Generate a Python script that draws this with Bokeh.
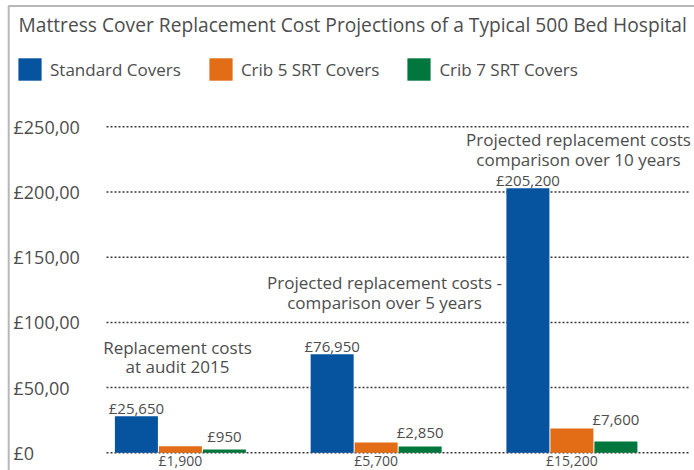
import numpy as np
from bokeh.plotting import figure
from bokeh.models import Legend, LegendItem, Label, BoxAnnotation, Range1d
from bokeh.core.properties import value
from bokeh.embed import file_html
from bokeh.resources import INLINE

# ---------------- data ----------------
title_text = "Mattress Cover Replacement Cost Projections of a Typical 500 Bed Hospital"
group_notes = [
    "Replacement costs\nat audit 2015",
    "Projected replacement costs -\ncomparison over 5 years",
    "Projected replacement costs\ncomparison over 10 years",
]
series_names = ["Standard Covers", "Crib 5 SRT Covers", "Crib 7 SRT Covers"]
# bar heights as drawn (scale of the value axis, thousands of £)
standard = [28.1, 75.5, 202.9]
crib5 = [5.1, 7.9, 18.6]
crib7 = [2.5, 4.8, 8.7]
standard_labels = ["£25,650", "£76,950", "£205,200"]
crib5_labels = ["£1,900", "£5,700", "£15,200"]
crib7_labels = ["£950", "£2,850", "£7,600"]
y_ticks = [0, 50, 100, 150, 200, 250]
y_tick_labels = ["£0", "£50,00", "£100,00", "£150,00", "£200,00", "£250,00"]

# ---------------- layout ----------------
W, H = 694, 470
GROUP_PX = 195.75          # pixels per group
X0_PX = 179.9              # canvas x of first group centre
Y0_PX = 452.3              # canvas y of value 0
PX_PER_UNIT = 1.304
FONT = "Open Sans"
TXT = "#4d4d4d"
colors = ["#0653A0", "#E36C16", "#02773D"]


def xd(px):
    return (px - X0_PX) / GROUP_PX


def yd(py):
    return (Y0_PX - py) / PX_PER_UNIT


p = figure(width=W, height=H, output_backend="svg", toolbar_location=None,
           x_range=Range1d(xd(0), xd(W)), y_range=Range1d(yd(H), yd(0)),
           min_border=0, min_border_left=0, min_border_right=0,
           min_border_top=0, min_border_bottom=0)
p.xaxis.visible = False
p.yaxis.visible = False
p.grid.visible = False
p.outline_line_color = None
p.background_fill_color = "white"
p.border_fill_color = "white"

# dotted grid lines
gx0, gx1 = xd(106), xd(688)
p.segment(x0=[gx0] * len(y_ticks), x1=[gx1] * len(y_ticks), y0=y_ticks, y1=y_ticks,
          line_color="#3a3a3a", line_width=1.5, line_dash="2 2")

# y tick labels (left aligned)
p.text(x=[xd(13)] * len(y_ticks), y=y_ticks, text=y_tick_labels,
       text_font=value(FONT), text_font_size="18px", text_color=TXT,
       text_align="left", text_baseline="middle")

# bars
gx = np.arange(len(standard))
bw = 43 / GROUP_PX
off = 44 / GROUP_PX
renderers = []
for vals, dx, c in zip([standard, crib5, crib7], [-off, 0, off], colors):
    r = p.vbar(x=gx + dx, top=vals, width=bw, bottom=0, fill_color=c, line_color=None)
    renderers.append(r)

# value labels
lbl = dict(text_font=value(FONT), text_color=TXT,
           text_align="center", text_baseline="middle")
p.text(x=gx - off, y=standard, text=standard_labels, y_offset=-8,
       text_font_size="15px", **lbl)
p.text(x=gx, y=[0] * 3, text=crib5_labels, y_offset=7.5,
       text_font_size="14px", **lbl)
p.text(x=gx + off, y=crib5, text=crib7_labels, y_offset=-10,
       text_font_size="15px", **lbl)

# group notes
note_x = [xd(177), xd(384), xd(578)]
note_y = [yd(356.5), yd(292), yd(148.8)]
p.text(x=note_x, y=note_y, text=group_notes, text_font=value(FONT),
       text_font_size="17px", text_color=TXT, text_align="center",
       text_baseline="middle", text_line_height=0.86)

# title
p.add_layout(Label(x=18, y=H - 24, x_units="screen", y_units="screen",
                   text=title_text, text_font=FONT, text_font_size="19.2px",
                   text_color=TXT, text_baseline="middle", text_align="left"))

# legend
legend = Legend(items=[LegendItem(label=n, renderers=[r]) for n, r in zip(series_names, renderers)],
                orientation="horizontal", location=(15, H - 83),
                glyph_width=29, glyph_height=28, label_standoff=6, spacing=25,
                padding=0, margin=0, border_line_alpha=0, background_fill_alpha=0,
                label_text_font=FONT, label_text_font_size="17px",
                label_text_color=TXT, label_height=28)
p.add_layout(legend)

# frame lines (top and left only; right/bottom fall outside the canvas)
p.add_layout(BoxAnnotation(left=xd(8.2), right=xd(W + 40), top=yd(5.5), bottom=yd(H + 40),
                           fill_alpha=0, line_color="#111111", line_width=2))

open("out.html", "w").write(file_html(p, INLINE))
